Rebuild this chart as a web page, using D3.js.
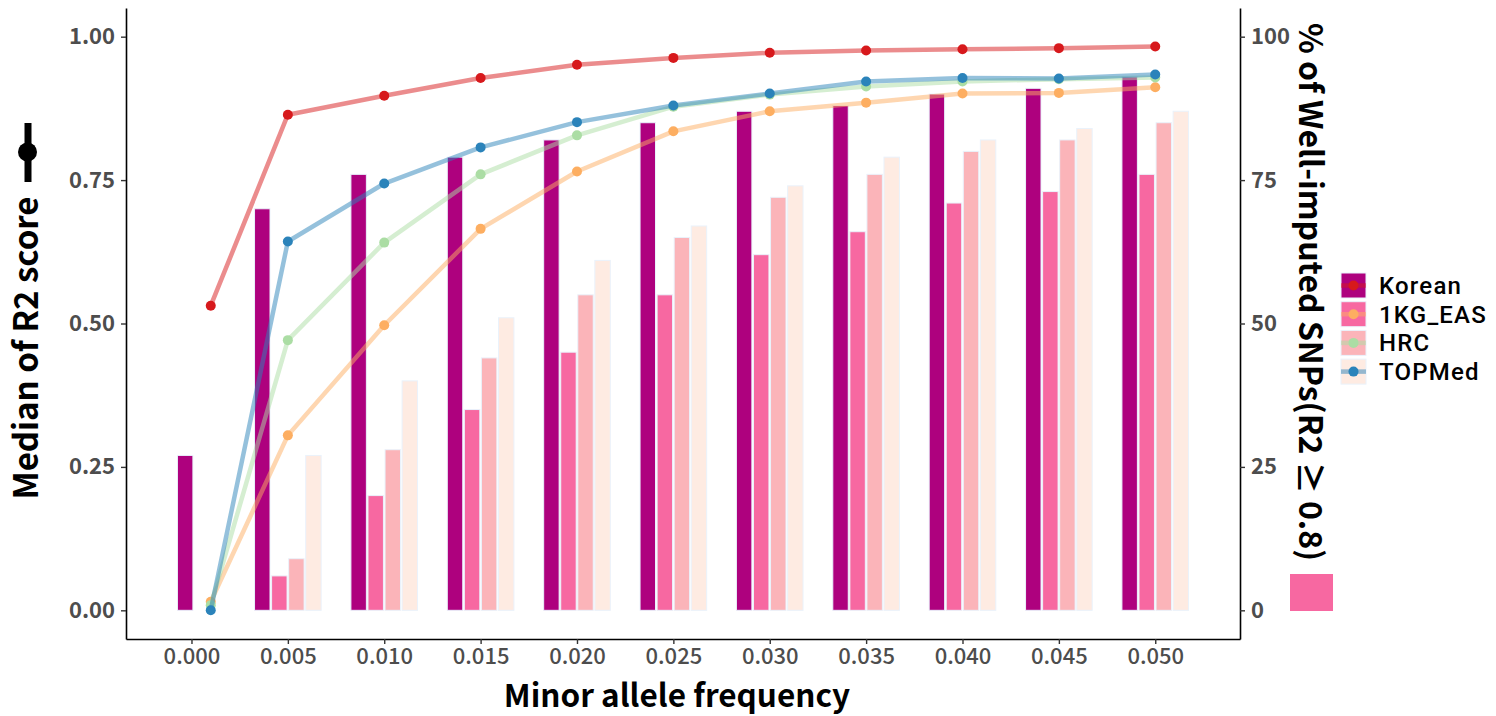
<!DOCTYPE html>
<html>
<head>
<meta charset="utf-8">
<script src="https://cdn.jsdelivr.net/npm/d3@7"></script>
<style>
  body { margin: 0; background: white; }
  text { font-family: "Noto Sans CJK KR", "Noto Sans", sans-serif; }
</style>
</head>
<body>
<svg></svg>
<script>

// data
var tickValues = [0, 0.005, 0.010, 0.015, 0.020, 0.025, 0.030, 0.035, 0.040, 0.045, 0.050];
var tickLabels = ["0.000", "0.005", "0.010", "0.015", "0.020", "0.025", "0.030", "0.035", "0.040", "0.045", "0.050"];
var maf = [0.001, 0.005, 0.010, 0.015, 0.020, 0.025, 0.030, 0.035, 0.040, 0.045, 0.050];
var panels = ["Korean", "1KG_EAS", "HRC", "TOPMed"];

// % of well-imputed SNPs (bars, right axis)
var pctKorean  = [27, 70, 76, 79, 82, 85, 87, 88, 90, 91, 93];
var pctEAS     = [0, 6, 20, 35, 45, 55, 62, 66, 71, 73, 76];
var pctHRC     = [0, 9, 28, 44, 55, 65, 72, 76, 80, 82, 85];
var pctTOPMed  = [0, 27, 40, 51, 61, 67, 74, 79, 82, 84, 87];

// median R2 (lines, left axis)
var r2Korean = [0.531, 0.864, 0.897, 0.928, 0.951, 0.963, 0.972, 0.976, 0.978, 0.980, 0.983];
var r2EAS    = [0.015, 0.305, 0.497, 0.665, 0.765, 0.835, 0.870, 0.885, 0.901, 0.902, 0.912];
var r2HRC    = [0.009, 0.471, 0.641, 0.760, 0.828, 0.878, 0.899, 0.913, 0.922, 0.926, 0.929];
var r2TOPMed = [0.000, 0.643, 0.744, 0.807, 0.851, 0.880, 0.901, 0.922, 0.928, 0.927, 0.934];

var barColors  = ["#AE017E", "#F768A1", "#FBB4B9", "#FEEBE2"];
var lineColors = ["#D7191C", "#FDAE61", "#ABDDA4", "#2B83BA"];

var pct = [pctKorean, pctEAS, pctHRC, pctTOPMed];
var r2  = [r2Korean, r2EAS, r2HRC, r2TOPMed];

var width = 1496, height = 716;
var plotLeft = 126, plotRight = 1240, plotTop = 8, plotBottom = 639;

var svg = d3.select('svg')
    .attr('width', width)
    .attr('height', height);

svg.append("rect")
    .attr("width", "100%")
    .attr("height", "100%")
    .attr("fill", "white");

// dodge width of a bar group, in MAF units
var dodge = 0.00354;
var lo = d3.min(maf) - dodge / 2, hi = d3.max(maf) + dodge / 2;
var pad = (hi - lo) * 0.05;

var xScale = d3.scaleLinear()
    .domain([lo - pad, hi + pad])
    .range([plotLeft, plotRight]);

var yScale = d3.scaleLinear()
    .domain([-0.05, 1.05])
    .range([plotBottom, plotTop]);

var yRight = d3.scaleLinear()
    .domain([-5, 105])
    .range([plotBottom, plotTop]);

var slot = dodge / panels.length;

// bars
panels.forEach(function(p, k){
    svg.append("g").selectAll("rect")
        .data(pct[k])
        .enter().append("rect")
        .attr("x", function(d, i){ return xScale(maf[i] - dodge / 2 + k * slot) + 0.8; })
        .attr("width", xScale(slot) - xScale(0) - 1.6)
        .attr("y", function(d){ return yRight(d); })
        .attr("height", function(d){ return yRight(0) - yRight(d); })
        .attr("fill", barColors[k])
        .attr("stroke", "#EAF2FB")
        .attr("stroke-width", 1);
});

// lines + points
var line = d3.line()
    .x(function(d, i){ return xScale(maf[i]); })
    .y(function(d){ return yScale(d); });

panels.forEach(function(p, k){
    svg.append("path")
        .datum(r2[k])
        .attr("d", line)
        .attr("fill", "none")
        .attr("stroke", lineColors[k])
        .attr("stroke-opacity", 0.5)
        .attr("stroke-width", 4.5)
        .attr("stroke-linejoin", "round");
    svg.append("g").selectAll("circle")
        .data(r2[k])
        .enter().append("circle")
        .attr("cx", function(d, i){ return xScale(maf[i]); })
        .attr("cy", function(d){ return yScale(d); })
        .attr("r", 5)
        .attr("fill", lineColors[k]);
});

// axes
var x_axis = d3.axisBottom(xScale)
    .tickValues(tickValues)
    .tickFormat(function(d, i){ return tickLabels[i]; })
    .tickSize(5).tickSizeOuter(0).tickPadding(4);

var y_axis = d3.axisLeft(yScale)
    .tickValues([0, 0.25, 0.5, 0.75, 1])
    .tickFormat(d3.format(".2f"))
    .tickSize(5).tickSizeOuter(0).tickPadding(6);

var y2_axis = d3.axisRight(yRight)
    .tickValues([0, 25, 50, 75, 100])
    .tickSize(5).tickSizeOuter(0).tickPadding(6);

var gx = svg.append("g").attr("transform", "translate(0," + plotBottom + ")").call(x_axis);
var gy = svg.append("g").attr("transform", "translate(" + plotLeft + ",0)").call(y_axis);
var gy2 = svg.append("g").attr("transform", "translate(" + plotRight + ",0)").call(y2_axis);

[gx, gy, gy2].forEach(function(g){
    g.select(".domain").attr("stroke", "black").attr("stroke-width", 1.6);
    g.selectAll(".tick line").attr("stroke", "#333").attr("stroke-width", 1.4);
    g.selectAll(".tick text")
        .attr("fill", "#4D4D4D")
        .style("font-size", "22px")
        .style("font-weight", "700")
        .style("font-family", '"Noto Sans CJK KR", sans-serif');
});
gx.selectAll(".tick text").style("font-weight", "500").style("font-size", "22px");

// axis titles
svg.append("text")
    .attr("x", (plotLeft + plotRight) / 2 - 6)
    .attr("y", 707)
    .attr("text-anchor", "middle")
    .style("font-size", "31.5px")
    .style("font-weight", "700")
    .text("Minor allele frequency");

svg.append("text")
    .attr("transform", "translate(38,348) rotate(-90)")
    .attr("text-anchor", "middle")
    .style("font-size", "33px")
    .style("font-weight", "700")
    .text("Median of R2 score");

// point-line glyph after the left title
svg.append("line")
    .attr("x1", 28).attr("x2", 28)
    .attr("y1", 123).attr("y2", 182)
    .attr("stroke", "black").attr("stroke-width", 7);
svg.append("circle")
    .attr("cx", 27.5).attr("cy", 152).attr("r", 9.5)
    .attr("fill", "black");

svg.append("text")
    .attr("transform", "translate(1299,23) rotate(90)")
    .attr("text-anchor", "start")
    .style("font-size", "32px")
    .style("font-weight", "700")
    .text("% of Well-imputed SNPs(R2 \u2265 0.8)");

svg.append("rect")
    .attr("x", 1290).attr("y", 574)
    .attr("width", 43).attr("height", 37)
    .attr("fill", "#F768A1");

// legend
var legend = svg.append("g").attr("transform", "translate(1341,273)");
panels.forEach(function(p, k){
    var g = legend.append("g").attr("transform", "translate(0," + (k * 28.7) + ")");
    g.append("rect")
        .attr("width", 25).attr("height", 25)
        .attr("fill", barColors[k])
        .attr("stroke", "#EAF2FB").attr("stroke-width", 1);
    g.append("line")
        .attr("x1", 0).attr("x2", 25)
        .attr("y1", 12.5).attr("y2", 12.5)
        .attr("stroke", lineColors[k]).attr("stroke-opacity", 0.5)
        .attr("stroke-width", 4.5);
    g.append("circle")
        .attr("cx", 12.5).attr("cy", 12.5).attr("r", 5)
        .attr("fill", lineColors[k]);
    g.append("text")
        .attr("x", 38).attr("y", 21)
        .style("font-family", "Roboto, sans-serif")
        .style("font-size", "24px")
        .style("font-weight", "500")
        .style("letter-spacing", "1.2px")
        .text(p);
});

</script>
</body>
</html>
